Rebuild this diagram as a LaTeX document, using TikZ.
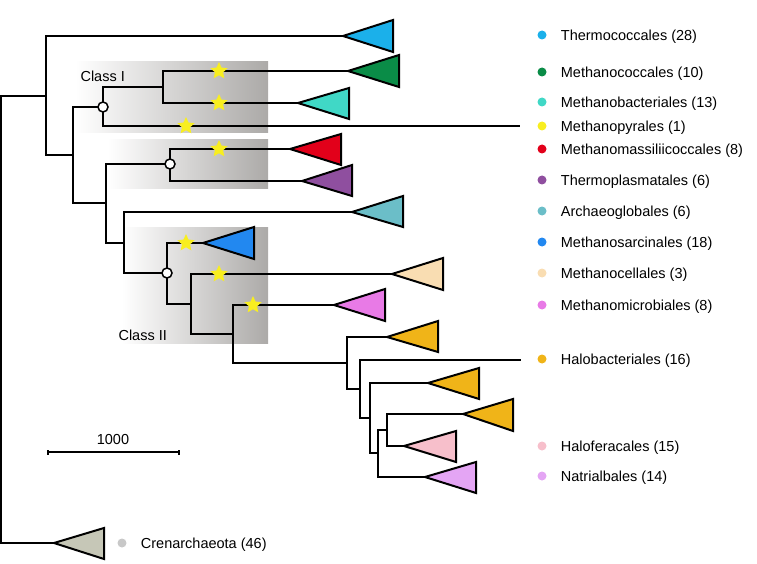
\documentclass[tikz,border=0pt]{standalone}
\usepackage{fontspec}
\setmainfont{Liberation Sans}
\usetikzlibrary{shapes.geometric,positioning}

\definecolor{thermo}{HTML}{1BB0EA}
\definecolor{mcocc}{HTML}{0A8C47}
\definecolor{mbact}{HTML}{40D8C6}
\definecolor{mpyr}{HTML}{F8EE20}
\definecolor{mmass}{HTML}{E2001A}
\definecolor{tplasm}{HTML}{8F4F9F}
\definecolor{arch}{HTML}{6BBEC8}
\definecolor{msarc}{HTML}{2288F0}
\definecolor{mcell}{HTML}{F9DDB2}
\definecolor{mmicro}{HTML}{E87AE6}
\definecolor{halo}{HTML}{F0B418}
\definecolor{halof}{HTML}{F7BFCB}
\definecolor{natri}{HTML}{E4A5F4}
\definecolor{cren}{HTML}{C6C7B7}
\definecolor{crendot}{HTML}{C8C8C8}
\definecolor{boxgray}{HTML}{ACAAA8}

\begin{document}
\begin{tikzpicture}[
    x=1pt,
    y=-1pt,
    branch/.style={draw,line width=2pt},
    clade/.style={draw,line width=2pt,line join=miter},
    classbox/.style={left color=white,right color=boxgray,draw=none},
    dup/.style={star,star points=5,star point ratio=2.1,
        fill=mpyr,minimum size=18pt,inner sep=0pt},
    split/.style={circle,draw,fill=white,line width=1.5pt,
        minimum size=10pt,inner sep=0pt},
    dot/.style={circle,minimum size=9pt,inner sep=0pt},
    legend/.style={inner sep=0pt,text depth=0pt,font=\fontsize{14.5}{17}\selectfont},
    every node/.style={font=\fontsize{14.5}{17}\selectfont}
]
\useasboundingbox (0,0) rectangle (757,564);

% shaded classes
\shade[classbox] (75,62) rectangle (268,133);
\shade[classbox] (108,140) rectangle (268,189);
\shade[classbox] (122,227) rectangle (268,343);
\node[anchor=west] (classI) at (77,76) {Class I};
\node[anchor=west] (classII) at (115,335) {Class II};

% internal nodes
\coordinate (root) at (1,320);
\coordinate (A) at (46,96);
\coordinate (B) at (73,155);
\coordinate (C1) at (103,107);
\coordinate (D) at (163,87);
\coordinate (E) at (106,203);
\coordinate (C2) at (170,164);
\coordinate (G) at (124,243);
\coordinate (C3) at (167,273);
\coordinate (I) at (191,304);
\coordinate (J) at (233,334);
\coordinate (K) at (347,363);
\coordinate (L) at (360,389);
\coordinate (M) at (370,418);
\coordinate (N) at (378,453);
\coordinate (O) at (387,430);

% clade tips
\coordinate (thermo) at (343,36);
\coordinate (mcocc) at (348,71);
\coordinate (mbact) at (298,103);
\coordinate (mpyr) at (520,126);
\coordinate (mmass) at (290,149);
\coordinate (tplasm) at (302,181);
\coordinate (arch) at (352,212);
\coordinate (msarc) at (203,243);
\coordinate (mcell) at (392,274);
\coordinate (mmicro) at (334,305);
\coordinate (haloA) at (387,337);
\coordinate (haloB) at (521,360);
\coordinate (haloC) at (428,383);
\coordinate (haloD) at (463,414);
\coordinate (halof) at (404,446);
\coordinate (natri) at (425,477);
\coordinate (cren) at (54,543);

% branches
\draw[branch] (root) |- (A);
\draw[branch] (root) |- (cren);
\draw[branch] (A) |- (thermo);
\draw[branch] (A) |- (B);
\draw[branch] (B) |- (C1);
\draw[branch] (B) |- (E);
\draw[branch] (C1) |- (D);
\draw[branch] (C1) |- (mpyr);
\draw[branch] (D) |- (mcocc);
\draw[branch] (D) |- (mbact);
\draw[branch] (E) |- (C2);
\draw[branch] (E) |- (G);
\draw[branch] (C2) |- (mmass);
\draw[branch] (C2) |- (tplasm);
\draw[branch] (G) |- (arch);
\draw[branch] (G) |- (C3);
\draw[branch] (C3) |- (msarc);
\draw[branch] (C3) |- (I);
\draw[branch] (I) |- (mcell);
\draw[branch] (I) |- (J);
\draw[branch] (J) |- (mmicro);
\draw[branch] (J) |- (K);
\draw[branch] (K) |- (haloA);
\draw[branch] (K) |- (L);
\draw[branch] (L) |- (haloB);
\draw[branch] (L) |- (M);
\draw[branch] (M) |- (haloC);
\draw[branch] (M) |- (N);
\draw[branch] (N) |- (O);
\draw[branch] (N) |- (natri);
\draw[branch] (O) |- (haloD);
\draw[branch] (O) |- (halof);

% collapsed clades
\draw[clade,fill=thermo] (thermo) -- ++(50,-16) -- ++(0,32) -- cycle;
\draw[clade,fill=mcocc] (mcocc) -- ++(51,-16) -- ++(0,32) -- cycle;
\draw[clade,fill=mbact] (mbact) -- ++(51,-15) -- ++(0,31) -- cycle;
\draw[clade,fill=mmass] (mmass) -- ++(51,-15) -- ++(0,31) -- cycle;
\draw[clade,fill=tplasm] (tplasm) -- ++(50,-16) -- ++(0,31) -- cycle;
\draw[clade,fill=arch] (arch) -- ++(51,-16) -- ++(0,31) -- cycle;
\draw[clade,fill=msarc] (msarc) -- ++(51,-16) -- ++(0,32) -- cycle;
\draw[clade,fill=mcell] (mcell) -- ++(51,-16) -- ++(0,32) -- cycle;
\draw[clade,fill=mmicro] (mmicro) -- ++(51,-16) -- ++(0,32) -- cycle;
\draw[clade,fill=halo] (haloA) -- ++(51,-16) -- ++(0,31) -- cycle;
\draw[clade,fill=halo] (haloC) -- ++(51,-15) -- ++(0,31) -- cycle;
\draw[clade,fill=halo] (haloD) -- ++(50,-15) -- ++(0,32) -- cycle;
\draw[clade,fill=halof] (halof) -- ++(52,-15) -- ++(0,31) -- cycle;
\draw[clade,fill=natri] (natri) -- ++(51,-15) -- ++(0,31) -- cycle;
\draw[clade,fill=cren] (cren) -- ++(50,-15) -- ++(0,31) -- cycle;

% gene duplications
\node[dup] (s1) at (219,71) {};
\node[dup] (s2) at (219,103) {};
\node[dup] (s3) at (186,126) {};
\node[dup] (s4) at (219,149) {};
\node[dup] (s5) at (186,243) {};
\node[dup] (s6) at (219,274) {};
\node[dup] (s7) at (253,305) {};

% open circles
\node[split] (c1) at (C1) {};
\node[split] (c2) at (C2) {};
\node[split] (c3) at (C3) {};

% scale bar
\coordinate (barL) at (48,452);
\coordinate (barR) at (179,452);
\draw[line width=1.4pt] (barL) -- (barR);
\draw[line width=1.2pt] ([yshift=-2.5]barL) -- ([yshift=2.5]barL);
\draw[line width=1.2pt] ([yshift=-2.5]barR) -- ([yshift=2.5]barR);
\node (scale) at (113,440) {1000};

% legend
\node[dot,fill=thermo] (dThermo) at (542,35) {};
\node[legend,right=14pt of dThermo] {Thermococcales (28)};
\node[dot,fill=mcocc] (dMcocc) at (542,72) {};
\node[legend,right=14pt of dMcocc] {Methanococcales (10)};
\node[dot,fill=mbact] (dMbact) at (542,102) {};
\node[legend,right=14pt of dMbact] {Methanobacteriales (13)};
\node[dot,fill=mpyr] (dMpyr) at (542,126) {};
\node[legend,right=14pt of dMpyr] {Methanopyrales (1)};
\node[dot,fill=mmass] (dMmass) at (542,149) {};
\node[legend,right=14pt of dMmass] {Methanomassiliicoccales (8)};
\node[dot,fill=tplasm] (dTplasm) at (542,180) {};
\node[legend,right=14pt of dTplasm] {Thermoplasmatales (6)};
\node[dot,fill=arch] (dArch) at (542,211) {};
\node[legend,right=14pt of dArch] {Archaeoglobales (6)};
\node[dot,fill=msarc] (dMsarc) at (542,242) {};
\node[legend,right=14pt of dMsarc] {Methanosarcinales (18)};
\node[dot,fill=mcell] (dMcell) at (542,273) {};
\node[legend,right=14pt of dMcell] {Methanocellales (3)};
\node[dot,fill=mmicro] (dMmicro) at (542,305) {};
\node[legend,right=14pt of dMmicro] {Methanomicrobiales (8)};
\node[dot,fill=halo] (dHalo) at (542,359) {};
\node[legend,right=14pt of dHalo] {Halobacteriales (16)};
\node[dot,fill=halof] (dHalof) at (542,446) {};
\node[legend,right=14pt of dHalof] {Haloferacales (15)};
\node[dot,fill=natri] (dNatri) at (542,476) {};
\node[legend,right=14pt of dNatri] {Natrialbales (14)};
\node[dot,fill=crendot] (dCren) at (122,543) {};
\node[legend,right=14pt of dCren] {Crenarchaeota (46)};

\end{tikzpicture}
\end{document}
